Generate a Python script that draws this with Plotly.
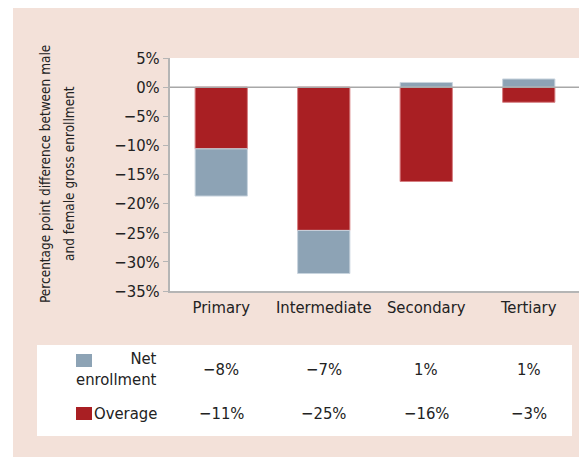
import plotly.graph_objects as go

categories = ["Primary", "Intermediate", "Secondary", "Tertiary"]
overage = [-10.6, -24.6, -16.2, -2.6]
net_enrollment = [-8.1, -7.4, 0.8, 1.4]
y_ticks = [5, 0, -5, -10, -15, -20, -25, -30, -35]
y_tick_labels = ["5%", "0%", "\u22125%", "\u221210%", "\u221215%", "\u221220%", "\u221225%", "\u221230%", "\u221235%"]

RED = "#A91F23"
BLUE = "#8DA3B5"
PINK = "#F3E1D9"
FONT = "Liberation Sans Narrow, DejaVu Sans Condensed, sans-serif"
FS = 16.5
TITLE_FS = 13.5

OFF = 8  # page body margin
W, H = 587 - OFF, 457 - OFF
L, R, T, B = 170 - OFF, 7, 58 - OFF, 166
PW, PH = W - L - R, H - T - B


def px(x):  # reference page pixel -> paper x
    return (x - OFF - L) / PW


def py(y):  # reference page pixel -> paper y
    return (H - B - (y - OFF)) / PH


def fmt(v):
    return f"{round(v):d}%".replace("-", "\u2212")


fig = go.Figure()
fig.add_bar(x=categories, y=overage, name="Overage",
            marker=dict(color=RED, line=dict(color="#d67f82", width=1)), width=0.51)
fig.add_bar(x=categories, y=net_enrollment, name="Net enrollment",
            marker=dict(color=BLUE, line=dict(color="#c9d4de", width=1)), width=0.51)

shapes = [
    dict(type="rect", xref="paper", yref="paper", x0=px(0), x1=px(13), y0=py(500), y1=py(0),
         fillcolor="white", line_width=0, layer="below"),
    dict(type="rect", xref="paper", yref="paper", x0=px(37), x1=px(572), y0=py(436), y1=py(345),
         fillcolor="white", line_width=0, layer="below"),
    dict(type="rect", xref="paper", yref="paper", x0=px(76), x1=px(92), y0=py(367), y1=py(354),
         fillcolor=BLUE, line_width=0),
    dict(type="rect", xref="paper", yref="paper", x0=px(76), x1=px(92), y0=py(420), y1=py(407),
         fillcolor=RED, line_width=0),
    dict(type="line", xref="paper", yref="y", x0=0, x1=1, y0=0, y1=0,
         line=dict(color="#A8A8A8", width=1.5)),
]

annotations = [
    dict(text="Percentage point difference between male", textangle=-90,
         xref="paper", yref="paper", x=px(45), y=py(174), showarrow=False,
         font=dict(size=TITLE_FS, color="#222"), xanchor="center", yanchor="middle"),
    dict(text="and female gross enrollment", textangle=-90,
         xref="paper", yref="paper", x=px(69), y=py(174), showarrow=False,
         font=dict(size=TITLE_FS, color="#222"), xanchor="center", yanchor="middle"),
    dict(text="Net<br>enrollment", xref="paper", yref="paper", x=px(159), y=py(369), showarrow=False,
         align="right", xanchor="right", yanchor="middle", font=dict(size=FS, color="#222")),
    dict(text="Overage", xref="paper", yref="paper", x=px(159), y=py(413), showarrow=False,
         xanchor="right", yanchor="middle", font=dict(size=FS, color="#222")),
]
for c, n, o in zip(categories, net_enrollment, overage):
    annotations.append(dict(text=fmt(n), xref="x", yref="paper", x=c, y=py(369), showarrow=False,
                            xanchor="center", yanchor="middle", font=dict(size=FS, color="#222")))
    annotations.append(dict(text=fmt(o), xref="x", yref="paper", x=c, y=py(413), showarrow=False,
                            xanchor="center", yanchor="middle", font=dict(size=FS, color="#222")))

fig.update_layout(
    width=W, height=H,
    margin=dict(l=L, r=R, t=T, b=B, pad=0),
    paper_bgcolor=PINK, plot_bgcolor="white",
    barmode="relative", bargap=0.49,
    showlegend=False,
    font=dict(family=FONT, size=FS, color="#222"),
    shapes=shapes, annotations=annotations,
    xaxis=dict(showgrid=False, showline=True, linecolor="#B5B5B5", linewidth=1.5, ticks="",
               tickfont=dict(size=FS, color="#222"), zeroline=False, fixedrange=True),
    yaxis=dict(range=[-35, 5], tickmode="array", tickvals=y_ticks, ticktext=y_tick_labels,
               showgrid=False, zeroline=False,
               showline=True, linecolor="#B5B5B5", linewidth=2, ticks="outside", ticklen=5,
               tickcolor="#B5B5B5", tickfont=dict(size=FS, color="#222"), fixedrange=True),
)

fig.write_html("out.html")
